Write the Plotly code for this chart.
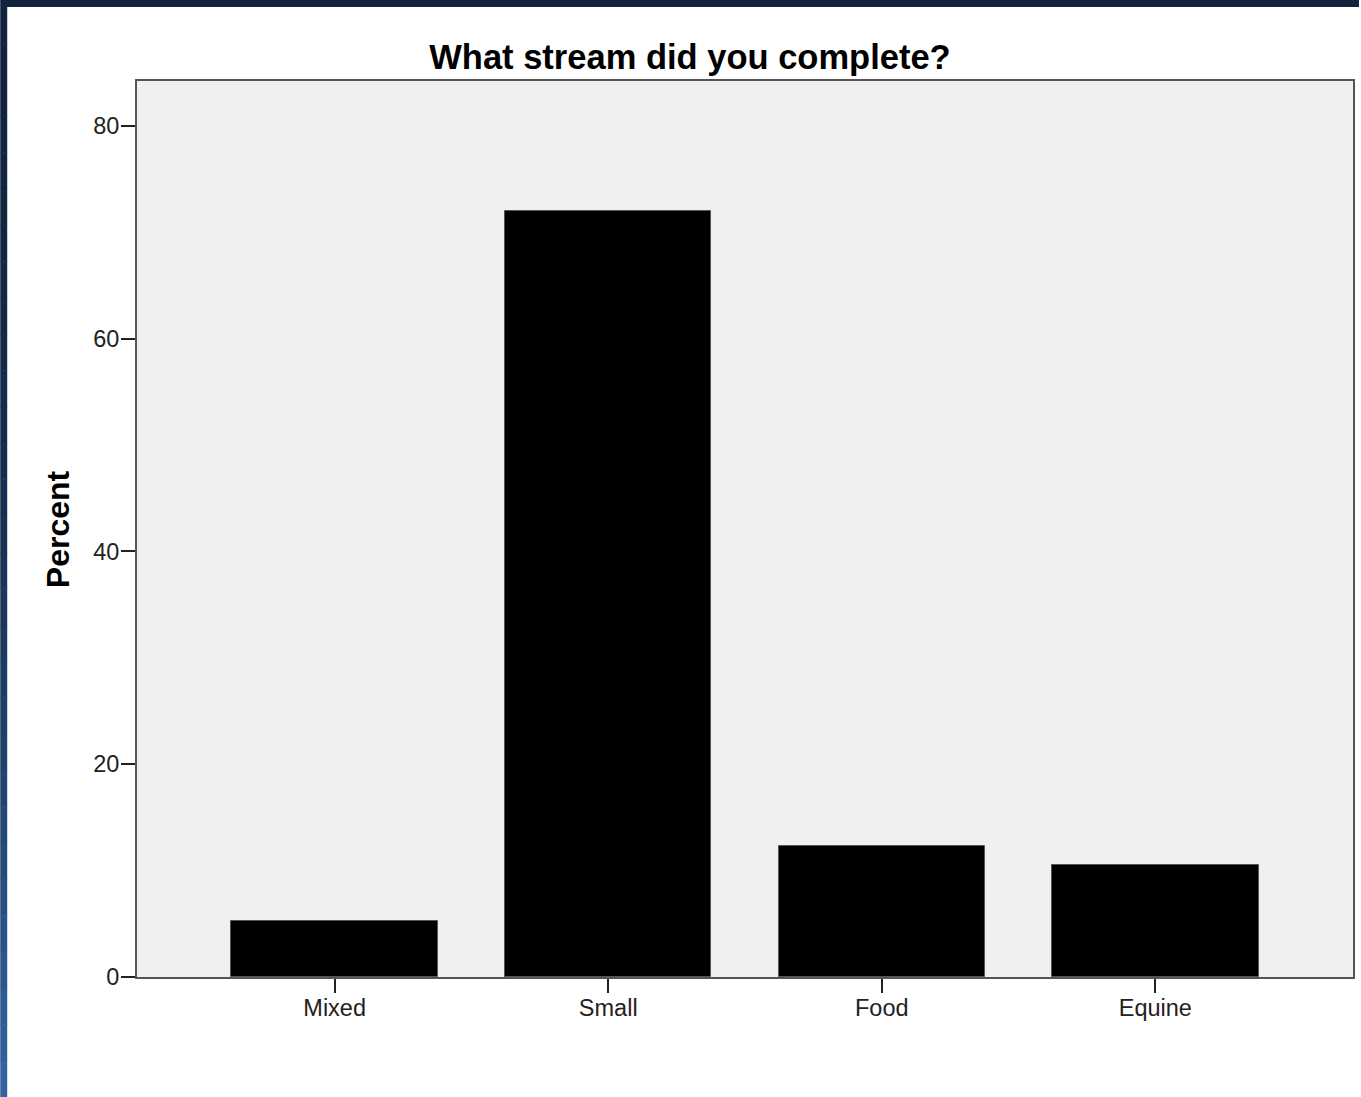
import plotly.graph_objects as go

categories = ["Mixed", "Small", "Food", "Equine"]
percent = [5.3, 72.0, 12.3, 10.5]
y_ticks = [0, 20, 40, 60, 80]

W, H = 1361, 1097
L, R, T, B = 137, 6, 81, 120
pw, ph = W - L - R, H - T - B

def px_x(px):
    return (px - L) / pw

def px_y(py):
    return (H - B - py) / ph

fig = go.Figure()
fig.add_trace(go.Bar(
    x=categories, y=percent, width=0.755,
    marker=dict(color="#000000", line=dict(color="#555555", width=1)),
    hoverinfo="x+y",
))

shapes = []
# top navy strip
shapes.append(dict(type="rect", xref="paper", yref="paper", layer="above",
                   x0=px_x(0), x1=px_x(W), y0=px_y(7), y1=px_y(0),
                   fillcolor="#10243f", line=dict(width=0)))
# left strip with vertical gradient (segments)
top_c = (16, 36, 63)
bot_c = (52, 102, 163)
nseg = 30
for i in range(nseg):
    y0p = 7 + (H - 7) * i / nseg
    y1p = 7 + (H - 7) * (i + 1) / nseg
    t = ((i + 0.5) / nseg) ** 2.2
    c = tuple(int(round(a + (b - a) * t)) for a, b in zip(top_c, bot_c))
    shapes.append(dict(type="rect", xref="paper", yref="paper", layer="above",
                       x0=px_x(0), x1=px_x(7), y0=px_y(y1p + 0.5), y1=px_y(y0p),
                       fillcolor="rgb(%d,%d,%d)" % c, line=dict(width=0)))

fig.update_layout(
    width=W, height=H,
    margin=dict(l=L, r=R, t=T, b=B, pad=0),
    paper_bgcolor="#ffffff",
    plot_bgcolor="#f0f0f0",
    font=dict(family="Liberation Sans, Arial, sans-serif", color="#000000"),
    title=dict(text="<b>What stream did you complete?</b>",
               font=dict(size=34.5, color="#000000"),
               x=690 / W, xanchor="center", xref="container",
               y=1 - 57 / H, yanchor="middle", yref="container"),
    showlegend=False,
    bargap=0,
    shapes=shapes,
    annotations=[dict(text="<b>Percent</b>", textangle=-90,
                      xref="paper", yref="paper", x=px_x(58), y=px_y(529),
                      xanchor="center", yanchor="middle", showarrow=False,
                      font=dict(size=32, color="#000000"))],
    xaxis=dict(
        range=[-0.7226, 3.7226], showgrid=False, zeroline=False,
        showline=True, linecolor="#555555", linewidth=2, mirror=True,
        ticks="outside", ticklen=14, tickwidth=2, tickcolor="#222222",
        tickfont=dict(size=23.5, color="#222222"),
        ticklabelstandoff=-5,
    ),
    yaxis=dict(
        range=[0, 84.2], tickvals=y_ticks, showgrid=False, zeroline=False,
        showline=True, linecolor="#555555", linewidth=2, mirror=True,
        ticks="outside", ticklen=14, tickwidth=2, tickcolor="#222222",
        tickfont=dict(size=23.5, color="#222222"),
        ticklabelstandoff=-3,
    ),
)

fig.write_html("out.html", config={"displayModeBar": False},
               post_script="document.body.style.margin='0';document.body.style.overflow='hidden';")
